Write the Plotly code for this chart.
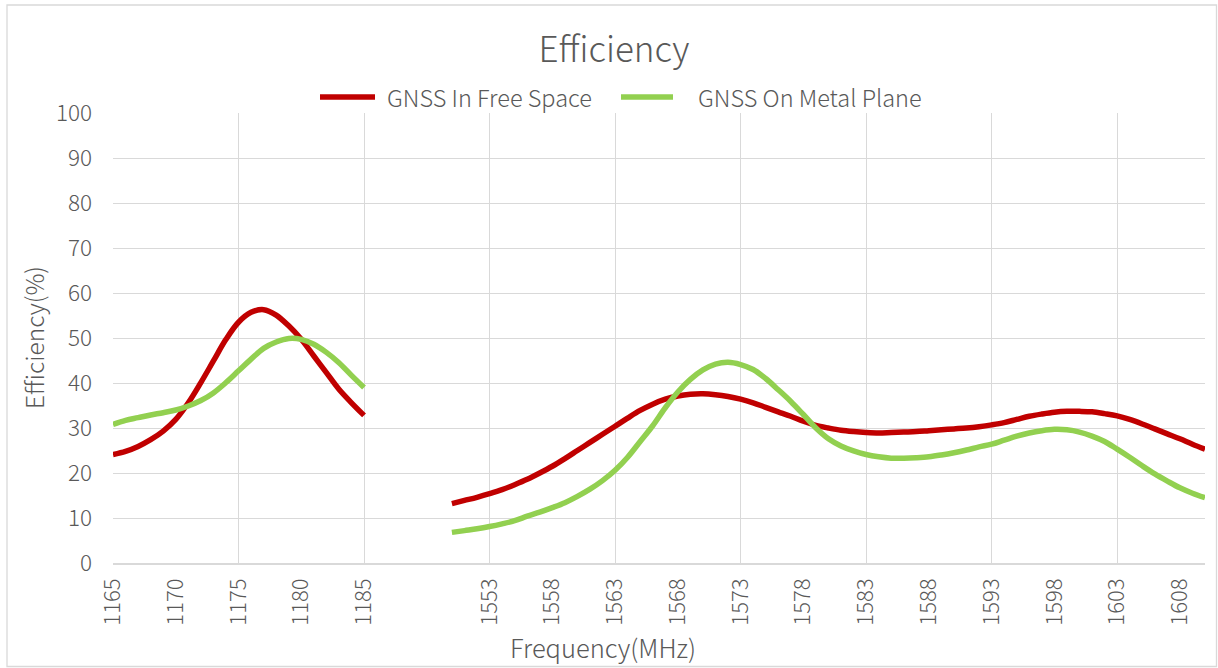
import plotly.graph_objects as go

# ---- data ----
freq_low = [1165, 1166, 1167, 1168, 1169, 1170, 1171, 1172, 1173, 1174, 1175,
            1176, 1177, 1178, 1179, 1180, 1181, 1182, 1183, 1184, 1185]
gap_slots = 6  # empty categories between the two bands
freq_high = list(range(1550, 1611))

free_low = [24.1, 24.8, 25.9, 27.4, 29.3, 31.9, 35.6, 40.1, 44.9, 49.7, 53.5,
            55.7, 56.3, 55.1, 52.7, 49.7, 46.0, 42.3, 38.6, 35.6, 32.8]
metal_low = [30.8, 31.7, 32.3, 32.9, 33.4, 34.0, 34.9, 36.1, 37.8, 40.1, 42.7,
             45.3, 47.7, 49.1, 49.9, 49.7, 48.6, 46.8, 44.5, 41.7, 39.0]

free_high = [13.2, 13.9, 14.6, 15.4, 16.3, 17.4, 18.6, 20.0, 21.5, 23.2,
             25.0, 26.8, 28.6, 30.4, 32.2, 33.9, 35.3, 36.4, 37.1, 37.5,
             37.6, 37.4, 37.0, 36.4, 35.6, 34.6, 33.6, 32.6, 31.5, 30.6,
             30.0, 29.5, 29.2, 29.0, 28.9, 29.0, 29.1, 29.2, 29.4, 29.6,
             29.8, 30.0, 30.3, 30.7, 31.2, 31.9, 32.6, 33.1, 33.5, 33.7,
             33.7, 33.6, 33.2, 32.7, 31.9, 30.9, 29.8, 28.7, 27.6, 26.4,
             25.3]
metal_high = [6.8, 7.2, 7.6, 8.1, 8.7, 9.4, 10.4, 11.3, 12.3, 13.4,
              14.8, 16.4, 18.3, 20.6, 23.5, 27.0, 30.5, 34.5, 38.0, 40.8,
              42.9, 44.2, 44.6, 44.1, 43.0, 41.0, 38.5, 35.9, 33.0, 30.0,
              27.6, 26.0, 24.9, 24.1, 23.6, 23.3, 23.3, 23.4, 23.6, 24.0,
              24.5, 25.1, 25.8, 26.4, 27.3, 28.2, 28.9, 29.4, 29.7, 29.6,
              29.1, 28.2, 27.0, 25.3, 23.5, 21.6, 19.8, 18.2, 16.7, 15.5,
              14.5]

series_names = ["GNSS In Free Space", "GNSS On Metal Plane"]

# ---- category axis (positions = category index) ----
cat_labels = [str(f) for f in freq_low] + [""] * gap_slots + [str(f) for f in freq_high]
pos_low = list(range(len(freq_low)))
pos_high = list(range(len(freq_low) + gap_slots, len(cat_labels)))
n_cat = len(cat_labels)

label_pos = list(range(0, n_cat, 5))
label_txt = [cat_labels[i] for i in label_pos]
grid_pos = list(range(0, n_cat, 10))

RED = "#C00000"
GREEN = "#92D050"
TXT = "#595959"
GRID = "#D9D9D9"
FONT = "Noto Sans CJK SC"
WGT = 300

fig = go.Figure()
for xs, ys, col, nm, ax in [
    (pos_low, free_low, RED, series_names[0], "x"),
    (pos_high, free_high, RED, series_names[0], "x"),
    (pos_low, metal_low, GREEN, series_names[1], "x2"),
    (pos_high, metal_high, GREEN, series_names[1], "x2"),
]:
    fig.add_trace(go.Scatter(x=xs, y=ys, mode="lines", name=nm, xaxis=ax,
                             line=dict(color=col, width=5.5, shape="spline", smoothing=1.0),
                             showlegend=False))

W, H = 1218, 668
L, R, T, B = 113, 13, 113, 105
pw, ph = W - L - R, H - T - B

def px(x):
    return (x - L) / pw

def py(y):
    return (H - B - y) / ph

def tfont(size):
    return dict(size=size, color=TXT, family=FONT, weight=WGT)

xr = [0, n_cat - 1]

# manual legend (Excel-style long line samples)
legend_items = [(320, 375, 385, RED, series_names[0]), (621, 673, 696, GREEN, series_names[1])]
shapes = [dict(type="rect", xref="paper", yref="paper", x0=px(7), x1=px(1216.5),
               y0=py(666.5), y1=py(5), line=dict(color=GRID, width=1.3), layer="below")]
annotations = [
    dict(text="Efficiency(%)", xref="paper", yref="paper", x=px(33), y=py(338),
         textangle=-90, showarrow=False, xanchor="center", yanchor="middle", font=tfont(24.5)),
    dict(text="Frequency(MHz)", xref="paper", yref="paper", x=px(603), y=py(646),
         showarrow=False, xanchor="center", yanchor="middle", font=tfont(25.5)),
]
for x0, x1, xt, col, nm in legend_items:
    shapes.append(dict(type="line", xref="paper", yref="paper", x0=px(x0), x1=px(x1),
                       y0=py(97), y1=py(97), line=dict(color=col, width=5.5)))
    annotations.append(dict(text=nm, xref="paper", yref="paper", x=px(xt), y=py(97),
                            showarrow=False, xanchor="left", yanchor="middle", font=tfont(23.5)))

fig.update_layout(
    width=W, height=H,
    margin=dict(l=L, r=R, t=T, b=B, autoexpand=False),
    paper_bgcolor="white", plot_bgcolor="white",
    font=tfont(22),
    title=dict(text="Efficiency", x=614 / W, xanchor="center", y=1 - 50 / H, yanchor="middle",
               xref="container", yref="container", font=tfont(35)),
    showlegend=False,
    xaxis=dict(range=xr, tickmode="array", tickvals=label_pos, ticktext=label_txt,
               tickangle=-90, showgrid=False, zeroline=False, ticks="",
               showline=True, linecolor=GRID, linewidth=1.5,
               tickfont=tfont(22), ticklabelstandoff=5),
    xaxis2=dict(range=xr, overlaying="x", anchor="y", tickmode="array", tickvals=grid_pos,
                showticklabels=False, showgrid=True, gridcolor=GRID, gridwidth=1.4,
                zeroline=False, ticks="", showline=False),
    yaxis=dict(range=[0, 100], dtick=10, tick0=0, showgrid=True, gridcolor=GRID, gridwidth=1.4,
               zeroline=False, ticks="", showline=False,
               tickfont=tfont(22.5), ticklabelstandoff=20),
    annotations=annotations,
    shapes=shapes,
)

fig.write_html("out.html", config={"displayModeBar": False},
               post_script="document.body.style.margin='0px';")
